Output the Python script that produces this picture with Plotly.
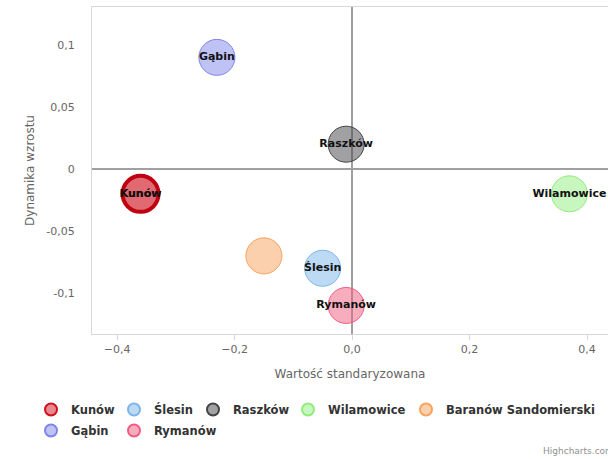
import plotly.graph_objects as go

names = ["Kunów", "Ślesin", "Raszków", "Wilamowice", "Baranów Sandomierski", "Gąbin", "Rymanów"]
x_vals = [-0.36, -0.05, -0.01, 0.37, -0.15, -0.23, -0.01]
y_vals = [-0.02, -0.08, 0.02, -0.02, -0.07, 0.09, -0.11]
labels = ["Kunów", "Ślesin", "Raszków", "Wilamowice", "", "Gąbin", "Rymanów"]
colors = ["#d0101e", "#7cb5ec", "#434348", "#90ed7d", "#f7a35c", "#8085e9", "#f15c80"]

x_ticks = [-0.4, -0.2, 0, 0.2, 0.4]
y_ticks = [-0.1, -0.05, 0, 0.05, 0.1]
y_ticktext = ["-0,1", "-0,05", "0", "0,05", "0,1"]

# legend layout (pixel positions of each legend entry's symbol, figure coords)
legend_sym_x = [53, 136, 215, 310, 428, 53, 136]
legend_sym_y = [409, 409, 409, 409, 409, 430, 430]

W, H = 608, 459
ML, MR, MT, MB = 92, 0, 7, 125
PW, PH = W - ML - MR, H - MT - MB


def rgba(hex_color, a):
    h = hex_color.lstrip("#")
    r, g, b = int(h[0:2], 16), int(h[2:4], 16), int(h[4:6], 16)
    return f"rgba({r},{g},{b},{a})"


FONT = "DejaVu Sans"
fig = go.Figure()

legend_layouts = {}
for i, name in enumerate(names):
    lname = "legend" if i == 0 else f"legend{i + 1}"
    fig.add_trace(go.Scatter(
        x=[x_vals[i]], y=[y_vals[i]],
        mode="markers+text",
        name=name,
        text=[labels[i]],
        textposition="middle center",
        textfont=dict(family=FONT, size=11, color="#111111", weight="bold"),
        marker=dict(size=36, color=rgba(colors[i], 0.5),
                    line=dict(color=colors[i], width=1)),
        legend=lname,
        cliponaxis=False,
    ))
    left_px = legend_sym_x[i] - 22
    top_px = legend_sym_y[i] - 14
    legend_layouts[lname] = dict(
        x=(left_px - ML) / PW, y=(MT + PH - top_px) / PH,
        orientation="h", xanchor="left", yanchor="top",
        font=dict(family=FONT, size=11.5, color="#333333", weight="bold"),
        itemsizing="constant", bgcolor="rgba(0,0,0,0)",
    )

# hover-state ring on Kunów
fig.add_trace(go.Scatter(
    x=[x_vals[0]], y=[y_vals[0]], mode="markers", showlegend=False,
    marker=dict(size=36, color="rgba(208,16,30,0.25)",
                line=dict(color="#c00010", width=4)),
    hoverinfo="skip", cliponaxis=False,
))
fig.add_trace(go.Scatter(
    x=[x_vals[0]], y=[y_vals[0]], mode="text", showlegend=False,
    text=[labels[0]], textposition="middle center",
    textfont=dict(family=FONT, size=11, color="#111111", weight="bold"),
    hoverinfo="skip", cliponaxis=False,
))

fig.update_layout(
    width=W, height=H,
    margin=dict(l=ML, r=MR, t=MT, b=MB),
    paper_bgcolor="white", plot_bgcolor="white",
    separators=", ",
    font=dict(family=FONT, color="#666666"),
    showlegend=True,
    xaxis=dict(
        range=[-0.4426, 0.4357], tickvals=x_ticks, tickformat=".1f",
        showgrid=False, zeroline=True, zerolinecolor="#a0a0a0", zerolinewidth=2,
        showline=True, linecolor="#d8d8d8", linewidth=1, mirror=True,
        ticks="outside", ticklen=5, tickcolor="#d8d8d8",
        tickfont=dict(family=FONT, size=11, color="#666666"),
        title=dict(text="Wartość standaryzowana", standoff=14,
                   font=dict(family=FONT, size=12, color="#666666")),
    ),
    yaxis=dict(
        range=[-0.133, 0.1306], tickvals=y_ticks, ticktext=y_ticktext,
        showgrid=False, zeroline=True, zerolinecolor="#a0a0a0", zerolinewidth=2,
        showline=True, linecolor="#d8d8d8", linewidth=1, mirror=True,
        ticks="", ticklabelstandoff=14,
        tickfont=dict(family=FONT, size=11, color="#666666"),
        title=dict(text="Dynamika wzrostu", standoff=9,
                   font=dict(family=FONT, size=12, color="#666666")),
    ),
    annotations=[dict(
        text="Highcharts.com", xref="paper", yref="paper",
        x=0.870, y=-0.358, xanchor="left", yanchor="middle",
        showarrow=False, font=dict(family=FONT, size=9, color="#909090"),
    )],
    **legend_layouts,
)

fig.write_html(
    "out.html",
    config={"displayModeBar": False},
    post_script="document.body.style.margin='0px';document.body.style.overflow='hidden';",
)
